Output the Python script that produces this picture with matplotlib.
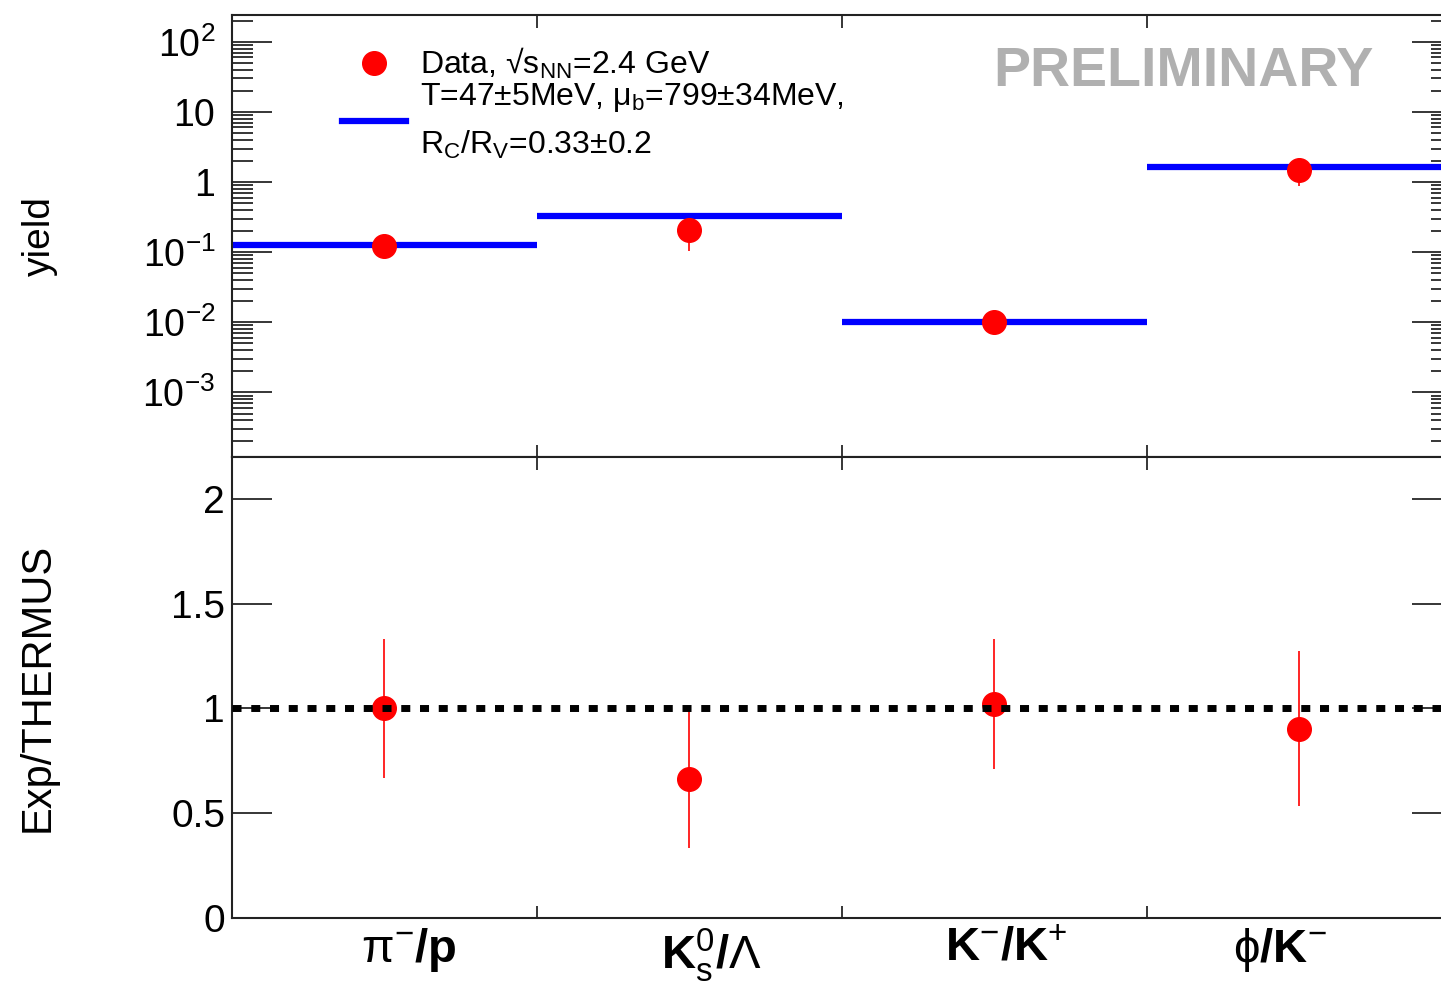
import numpy as np
import matplotlib.pyplot as plt
import matplotlib.transforms as mtransforms
from matplotlib.ticker import FixedLocator, FixedFormatter, LogLocator, NullFormatter, NullLocator
from matplotlib.lines import Line2D

plt.rcParams['font.family'] = ['Liberation Sans', 'DejaVu Sans']
plt.rcParams['mathtext.fontset'] = 'custom'
plt.rcParams['mathtext.rm'] = 'Liberation Sans'
plt.rcParams['mathtext.it'] = 'Liberation Sans:italic'
plt.rcParams['mathtext.bf'] = 'Liberation Sans:bold'

# === Données ===
categories = [r"$\mathrm{\pi}^{-}$/p", r"K$_{\mathrm{s}}^{0}$/$\mathrm{\Lambda}$",
              r"K$^{-}$/K$^{+}$", r"$\mathrm{\phi}$/K$^{-}$"]
yield_data = [0.122, 0.206, 0.0100, 1.48]
yield_err = [0.040, 0.103, 0.0031, 0.60]
yield_model = [0.125, 0.327, 0.0100, 1.64]
ratio = [1.00, 0.663, 1.02, 0.904]
ratio_err = [0.33, 0.33, 0.31, 0.37]

yield_ticks = [1e-3, 1e-2, 1e-1, 1, 10, 100]
yield_ticklabels = [r"$10^{-3}$", r"$10^{-2}$", r"$10^{-1}$", "1", "10", r"$10^{2}$"]
ratio_ticks = [0, 0.5, 1, 1.5, 2]
ratio_ticklabels = ["0", "0.5", "1", "1.5", "2"]

edges = np.arange(len(categories) + 1)
centers = edges[:-1] + 0.5

fig = plt.figure(figsize=(14.41, 9.83), dpi=100)
ax1 = fig.add_axes([0.161, 0.5351, 0.8466, 0.4496])
ax2 = fig.add_axes([0.161, 0.0661, 0.8466, 0.469])

# === Panneau du haut : yields ===
ax1.set_yscale('log')
ax1.hlines(yield_model, edges[:-1], edges[1:], color='#0000ff', lw=4.5, zorder=2)
ax1.errorbar(centers, yield_data, yerr=yield_err, fmt='o', color='red', ms=17,
             elinewidth=1.2, capsize=0, zorder=3)
ax1.set_xlim(0, len(categories))
ax1.set_ylim(1.2e-4, 2.4e2)
ax1.yaxis.set_major_locator(FixedLocator(yield_ticks))
ax1.yaxis.set_major_formatter(FixedFormatter(yield_ticklabels))
ax1.yaxis.set_minor_locator(LogLocator(base=10, subs=np.arange(2, 10), numticks=20))
ax1.yaxis.set_minor_formatter(NullFormatter())
ax1.set_xticks(edges[1:-1])
ax1.set_xticklabels([])
ax1.tick_params(axis='y', which='major', direction='in', length=29, width=1.1,
                left=True, right=True, labelsize=27, pad=12)
ax1.tick_params(axis='y', which='minor', direction='in', length=15, width=1.1,
                left=True, right=True)
ax1.tick_params(axis='x', which='major', direction='in', length=9, width=1.1,
                top=True, bottom=True)

handles = [Line2D([], [], marker='o', ls='none', color='red', ms=17),
           Line2D([], [], color='#0000ff', lw=4.5)]
labels = [r"Data, √s$_{\mathrm{NN}}$=2.4 GeV",
          "T=47±5MeV, $\\mathrm{\\mu}_{\\mathrm{b}}$=799±34MeV,\nR$_{\\mathrm{C}}$/R$_{\\mathrm{V}}$=0.33±0.2"]
leg = ax1.legend(handles, labels, loc='upper left', bbox_to_anchor=(0.090, 0.93),
                 frameon=False, fontsize=23, borderpad=0, borderaxespad=0,
                 handlelength=2.0, handletextpad=0.45, labelspacing=0.0)
leg.get_texts()[1].set_linespacing(1.6)

ax1.text(0.780, 0.87, "PRELIMINARY", transform=ax1.transAxes, ha='center', va='center',
         fontsize=40, fontweight='bold', color='#b0b0b0')

# === Panneau du bas : Exp/THERMUS ===
ax2.axhline(1, color='black', lw=5, dashes=(1.3, 1.4), zorder=4)
ax2.errorbar(centers, ratio, yerr=ratio_err, fmt='o', color='red', ms=17,
             elinewidth=1.2, capsize=0, zorder=3)
ax2.set_xlim(0, len(categories))
ax2.set_ylim(0, 2.2)
ax2.yaxis.set_major_locator(FixedLocator(ratio_ticks))
ax2.yaxis.set_major_formatter(FixedFormatter(ratio_ticklabels))
ax2.yaxis.set_minor_locator(NullLocator())
ax2.set_xticks(edges[1:-1])
ax2.set_xticklabels([])
ax2.set_xticks(centers, minor=True)
ax2.set_xticklabels(categories, minor=True)
ax2.tick_params(axis='y', which='major', direction='in', length=29, width=1.1,
                left=True, right=True, labelsize=28, pad=5)
ax2.tick_params(axis='x', which='major', direction='in', length=9, width=1.1,
                top=True, bottom=True)
ax2.tick_params(axis='x', which='minor', length=0, labelsize=34, pad=6)
# petits décalages des labels comme dans l'original (en pixels)
label_shift = [24, 22, 12, -20]
for lab, dx in zip(ax2.get_xticklabels(minor=True), label_shift):
    lab.set_fontweight('bold')
    lab.set_transform(lab.get_transform() + mtransforms.ScaledTranslation(dx / 100, 0, fig.dpi_scale_trans))

for ax in (ax1, ax2):
    for sp in ax.spines.values():
        sp.set_linewidth(1.5)
        sp.set_color('#222222')

fig.text(40 / 1441, 1 - 236 / 983, "yield", rotation=90, ha='center', va='center', fontsize=28)
fig.text(38 / 1441, 1 - 687 / 983, "Exp/THERMUS", rotation=90, ha='center', va='center', fontsize=30)

fig.savefig("out.png", dpi=100)
